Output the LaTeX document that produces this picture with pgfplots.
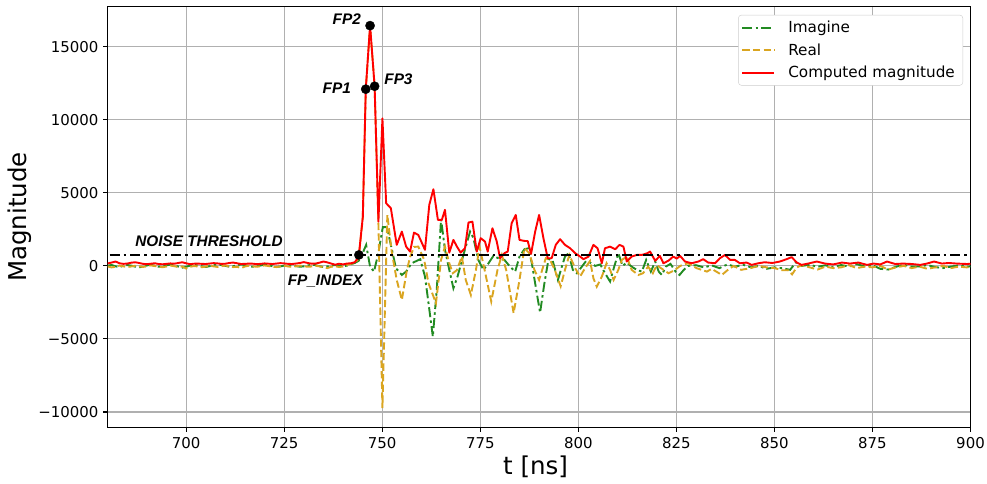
\documentclass[border=0pt]{standalone}
\usepackage{fontspec}
\setmainfont{DejaVu Sans}
\newfontfamily\annfont{Liberation Sans}
\usepackage{pgfplots}
\usepackage{pgfplotstable}
\pgfplotsset{compat=1.18}
\usetikzlibrary{calc}
\definecolor{imgreen}{RGB}{34,139,34}
\definecolor{regold}{RGB}{218,165,32}
\definecolor{gridgray}{RGB}{176,176,176}

% imaginary part
\pgfplotstableread[row sep=\\]{t v\\
680 20\\ 681 60\\ 682 -30\\ 683 -80\\ 684 10\\ 685 60\\ 686 20\\ 687 -50\\ 688 -100\\ 689 -40\\
690 30\\ 691 80\\ 692 10\\ 693 -60\\ 694 -20\\ 695 40\\ 696 90\\ 697 30\\ 698 -40\\ 699 -120\\
700 -60\\ 701 20\\ 702 70\\ 703 30\\ 704 -30\\ 705 -70\\ 706 -20\\ 707 50\\ 708 110\\ 709 60\\
710 0\\ 711 -50\\ 712 -20\\ 713 40\\ 714 100\\ 715 60\\ 716 -10\\ 717 -60\\ 718 -30\\ 719 30\\
720 80\\ 721 40\\ 722 -20\\ 723 -70\\ 724 -40\\ 725 20\\ 726 70\\ 727 40\\ 728 -10\\ 729 -60\\
730 -30\\ 731 30\\ 732 90\\ 733 50\\ 734 -20\\ 735 -80\\ 736 -40\\ 737 20\\ 738 60\\ 739 10\\
740 -40\\ 741 20\\ 742 120\\ 743 200\\ 744.0 350\\ 744.9 800\\ 745.9 1440\\ 746.9 -50\\ 747.9 -390\\
749.0 870\\ 750.15 2650\\ 751.2 2650\\ 752.2 1440\\ 753.5 -160\\ 755.0 -620\\ 756.1 -390\\ 757.5 180\\
759.7 460\\ 760.9 -730\\ 761.8 -2550\\ 762.9 -4840\\ 763.9 -1640\\ 765.0 3200\\ 766.0 1100\\ 767.1 -270\\
768.15 -1530\\ 769.2 -730\\ 770.7 750\\ 772.4 2350\\ 773.25 1900\\ 774.5 410\\ 775.8 -270\\ 777.1 180\\
778.35 685\\ 779.6 525\\ 781.15 410\\ 782.6 -50\\ 783.9 -390\\ 785.0 640\\ 786.25 1140\\ 787.3 1210\\
788.15 180\\ 789.2 -1530\\ 790.25 -3200\\ 791.35 -1190\\ 792.4 460\\ 793.4 410\\ 794.8 -960\\ 795.8 -50\\
796.6 640\\ 797.5 870\\ 798.6 -270\\ 799.6 -500\\ 800.9 -50\\ 802.0 340\\ 803.0 230\\ 804.3 0\\
805.6 100\\ 806.8 -500\\ 808.1 -1070\\ 809.15 -50\\ 810.2 870\\ 811.3 0\\ 812.35 230\\ 813.6 -50\\
814.9 -270\\ 816.2 -390\\ 817.3 410\\ 818.5 -390\\ 819.6 300\\ 820.5 -390\\ 821.3 -620\\ 822.3 -50\\
823.5 140\\ 824.8 -390\\ 825.8 -620\\ 826.9 -270\\ 828 0\\ 830 50\\ 832 -100\\ 834 30\\ 836 -150\\
838 100\\ 840 -50\\ 842 80\\ 844 -100\\ 846 0\\ 848 -200\\ 850 -100\\ 852 -160\\ 854 -270\\ 855.5 250\\
857 0\\ 859 80\\ 861 -60\\ 863 40\\ 865 -100\\ 867 60\\ 869 -40\\ 871 120\\ 873 -30\\ 875 50\\
877 -200\\ 879 -250\\ 881 -60\\ 883 80\\ 885 -50\\ 887 -40\\ 889 60\\ 891 -80\\ 893 -150\\ 895 -50\\
897 40\\ 899 -60\\ 900 -30\\
}\imagtab

% real part
\pgfplotstableread[row sep=\\]{t v\\
680 -40\\ 681 -100\\ 682 -60\\ 683 20\\ 684 -30\\ 685 -80\\ 686 -40\\ 687 10\\ 688 -20\\ 689 -70\\
690 -30\\ 691 40\\ 692 -10\\ 693 -50\\ 694 -90\\ 695 -40\\ 696 20\\ 697 -20\\ 698 -80\\ 699 -40\\
700 -180\\ 701 -60\\ 702 -10\\ 703 -40\\ 704 -90\\ 705 -50\\ 706 10\\ 707 -30\\ 708 -70\\ 709 -20\\
710 30\\ 711 -40\\ 712 -80\\ 713 -60\\ 714 -150\\ 715 -40\\ 716 10\\ 717 -30\\ 718 -60\\ 719 -20\\
720 30\\ 721 -10\\ 722 -60\\ 723 -80\\ 724 -30\\ 725 10\\ 726 -40\\ 727 -70\\ 728 -30\\ 729 20\\
730 -20\\ 731 -60\\ 732 -40\\ 733 10\\ 734 -30\\ 735 -90\\ 736 -150\\ 737 -60\\ 738 -20\\ 739 -80\\
740 -40\\ 741 60\\ 742 150\\ 743 200\\ 744.0 520\\ 745.05 3300\\ 745.8 12000\\ 746.9 16450\\
748.06 12290\\ 749.03 2900\\ 750.05 -9730\\ 751.3 3500\\ 752.4 1000\\ 753.7 -960\\ 755.0 -2330\\
756.3 -270\\ 757.1 600\\ 758.1 1300\\ 759.2 1320\\ 760.7 410\\ 761.8 -1190\\ 763.7 -2550\\ 765.0 410\\
766.0 1320\\ 767.1 180\\ 768.0 -500\\ 769.0 -300\\ 770.3 640\\ 771.3 -960\\ 772.6 -1990\\ 773.9 -270\\
774.8 1320\\ 776.1 -270\\ 777.8 -2440\\ 779.4 -270\\ 780.5 750\\ 781.6 -270\\ 783.5 -3240\\ 785.0 -960\\
786.25 1210\\ 787.5 870\\ 788.8 -270\\ 790.0 -960\\ 791.7 525\\ 792.8 410\\ 794.0 -270\\ 795.5 -1400\\
796.6 -270\\ 797.7 750\\ 799.2 -160\\ 800.45 -730\\ 801.7 -160\\ 803.0 340\\ 803.85 -850\\ 804.7 -1420\\
806.0 -730\\ 807.2 180\\ 808.1 -270\\ 809.0 -960\\ 810.2 -270\\ 811.1 410\\ 812.35 640\\ 813.6 -270\\
815.3 -620\\ 816.5 -500\\ 817.8 -50\\ 819.0 -500\\ 820.0 50\\ 821.7 -270\\ 823.0 -500\\ 824.5 -300\\
826 0\\ 828 180\\ 830.2 -160\\ 832.8 -390\\ 834 -200\\ 836.6 -620\\ 838 -300\\ 839.6 0\\ 841.5 -270\\
843.8 -160\\ 846 0\\ 848 -100\\ 850 -150\\ 852 -300\\ 853.5 -300\\ 854.5 -580\\ 855.7 -100\\ 857 50\\
859 -100\\ 861 -250\\ 863 -50\\ 865 -150\\ 867 -100\\ 869 50\\ 871 -150\\ 873 -50\\ 875 -100\\ 877 0\\
879 -250\\ 881 -100\\ 883 0\\ 885 -150\\ 887 -50\\ 889 -200\\ 891 -100\\ 893 0\\ 895 -150\\ 897 -50\\
899 -100\\ 900 -80\\
}\realtab

% computed magnitude
\pgfplotstableread[row sep=\\]{t v\\
680 170\\ 681 230\\ 682 300\\ 683 180\\ 684 140\\ 685 160\\ 686 220\\ 687 250\\ 688 200\\ 689 140\\
690 120\\ 691 150\\ 692 180\\ 693 130\\ 694 110\\ 695 140\\ 696 170\\ 697 150\\ 698 200\\ 699 250\\
700 180\\ 701 120\\ 702 150\\ 703 160\\ 704 140\\ 705 130\\ 706 160\\ 707 190\\ 708 170\\ 709 140\\
710 150\\ 711 200\\ 712 230\\ 713 180\\ 714 130\\ 715 140\\ 716 160\\ 717 150\\ 718 120\\ 719 140\\
720 170\\ 721 150\\ 722 130\\ 723 160\\ 724 190\\ 725 170\\ 726 140\\ 727 130\\ 728 160\\ 729 200\\
730 260\\ 731 200\\ 732 150\\ 733 160\\ 734 220\\ 735 300\\ 736 240\\ 737 160\\ 738 80\\ 739 150\\
740 100\\ 741 160\\ 742 180\\ 743 250\\ 744.0 620\\ 745.05 3360\\ 745.8 12100\\ 746.9 16450\\
748.06 12300\\ 749.03 3030\\ 750.05 10100\\ 751.0 4290\\ 752.2 3950\\ 753.7 1440\\ 755.0 2350\\
756.1 1320\\ 757.1 980\\ 758.1 2280\\ 759.2 2120\\ 760.9 1100\\ 762.0 4180\\ 763.05 5250\\ 764.2 3150\\
765.2 3150\\ 766.0 3840\\ 767.1 910\\ 768.15 1780\\ 769.1 1300\\ 770.0 910\\ 771.1 1210\\ 772.0 2970\\
773.0 3030\\ 774.1 980\\ 775.1 1900\\ 776.2 1670\\ 776.9 980\\ 778.1 2580\\ 779.2 1670\\ 780.05 525\\
781.15 870\\ 782.0 980\\ 783.0 2920\\ 784.05 3490\\ 785.0 1780\\ 786.25 1710\\ 787.1 1700\\ 787.95 820\\
789.0 2350\\ 790.0 3490\\ 791.1 1900\\ 792.2 525\\ 793.2 525\\ 794.25 1440\\ 795.35 1830\\ 796.6 1440\\
797.9 1210\\ 799.2 870\\ 800.45 640\\ 801.3 460\\ 802.6 640\\ 803.85 1440\\ 804.9 1210\\ 806.0 180\\
806.8 1210\\ 808.1 1320\\ 809.4 1140\\ 810.5 1440\\ 811.5 1320\\ 812.35 300\\ 813.6 640\\ 814.9 750\\
816.2 750\\ 817.6 870\\ 818.3 980\\ 819.6 350\\ 820.8 685\\ 821.7 180\\ 823.0 360\\ 824.2 640\\
825.1 500\\ 825.95 685\\ 827.2 300\\ 828.9 180\\ 830.6 300\\ 831.85 460\\ 833.1 230\\ 834.85 180\\
836.1 525\\ 837.4 750\\ 838.7 410\\ 839.9 410\\ 841.2 180\\ 842.9 230\\ 844.2 70\\ 845.9 180\\
847.5 250\\ 849.5 200\\ 851.4 300\\ 853.1 460\\ 854.4 600\\ 855.7 230\\ 856.9 70\\ 858.6 160\\
860.8 300\\ 862.9 160\\ 865.0 100\\ 867.2 230\\ 869.3 160\\ 871.4 230\\ 873.6 70\\ 875.3 160\\
877.0 100\\ 878.7 300\\ 880.8 130\\ 882.8 160\\ 885.0 130\\ 887.2 70\\ 888.9 160\\ 890.7 300\\
892.7 160\\ 894.4 200\\ 896.5 160\\ 899.1 130\\ 900 150\\
}\magtab

\begin{document}
\begin{tikzpicture}
\begin{axis}[
  width=862.8bp, height=420.8bp, scale only axis,
  xmin=680, xmax=900, ymin=-11050, ymax=17760,
  xtick={700,725,750,775,800,825,850,875,900},
  xticklabels={700,725,750,775,800,825,850,875,900},
  ytick={-10000,-5000,0,5000,10000,15000},
  yticklabels={−10000,−5000,0,5000,10000,15000},
  scaled y ticks=false,
  xtick pos=bottom, ytick pos=left,
  tick align=outside, major tick length=4.3bp,
  every tick/.style={black, line width=1.1bp},
  axis line style={line width=1.1bp},
  grid=major, grid style={gridgray, line width=1.1bp},
  tick label style={font=\fontsize{15}{18}\selectfont},
  xticklabel style={yshift=-2bp},
  yticklabel style={xshift=-1.5bp},
  label style={font=\fontsize{24.6}{29}\selectfont},
  xlabel={t [ns]}, ylabel={Magnitude},
  xlabel style={at={(axis description cs:0.496,-0.094)}, anchor=center},
  ylabel style={at={(axis description cs:-0.1016,0.5)}, anchor=center},
  legend cell align=left,
  legend style={at={(0.9913,0.980)}, anchor=north east, draw=black!20,
    rounded corners=3bp, fill=white,
    font=\fontsize{15.3}{18}\selectfont,
    inner xsep=3bp, inner ysep=3.5bp, row sep=4.5bp,
    nodes={inner xsep=5bp, inner ysep=2.5bp}},
]
\addlegendimage{imgreen, line width=1.9bp, dash pattern=on 10bp off 3.3bp on 2.5bp off 3.3bp,
  legend image code/.code={\draw[imgreen, line width=1.9bp, dash pattern=on 10bp off 3.3bp on 2.5bp off 3.3bp] (0bp,0bp) -- (32bp,0bp); \path (40bp,0bp);}}
\addlegendentry{Imagine}
\addlegendimage{regold, line width=1.9bp,
  legend image code/.code={\draw[regold, line width=1.9bp, dash pattern=on 7.3bp off 3.3bp] (0bp,0bp) -- (32bp,0bp); \path (40bp,0bp);}}
\addlegendentry{Real}
\addlegendimage{red, line width=1.9bp,
  legend image code/.code={\draw[red, line width=1.9bp] (0bp,0bp) -- (32bp,0bp); \path (40bp,0bp);}}
\addlegendentry{Computed magnitude}
\addplot[imgreen, line width=1.9bp, dash pattern=on 10bp off 3.3bp on 2.5bp off 3.3bp, forget plot] table[x=t,y=v] {\imagtab};
\addplot[regold, line width=1.9bp, dash pattern=on 7.3bp off 3.3bp, forget plot] table[x=t,y=v] {\realtab};
\addplot[red, line width=1.9bp, line join=round, forget plot] table[x=t,y=v] {\magtab};
\addplot[black, line width=2.6bp, dash pattern=on 10bp off 4bp on 2.5bp off 4bp, forget plot] coordinates {(680.5,750) (899,750)};
\addplot[only marks, mark=*, mark size=4.6bp, black, forget plot] coordinates {(744.05,750) (745.8,12100) (746.9,16450) (748.06,12300)};
\begin{scope}[every node/.style={inner sep=0pt, font={\annfont\fontsize{15.4}{18}\selectfont\bfseries\itshape}}]
\node[anchor=east] at (axis cs:744.6,16880) {FP2};
\node[anchor=east] at (axis cs:742.05,12170) {FP1};
\node[anchor=west] at (axis cs:750.5,12750) {FP3};
\node[anchor=east] at (axis cs:745.1,-1060) {FP\_INDEX};
\node[anchor=west] at (axis cs:687.0,1710) {NOISE THRESHOLD};
\end{scope}
\end{axis}
\pgfresetboundingbox
\path[use as bounding box] ($(current axis.south west)+(-107.7bp,-56.7bp)$) rectangle ($(current axis.north east)+(16.5bp,6.5bp)$);
\end{tikzpicture}
\end{document}
